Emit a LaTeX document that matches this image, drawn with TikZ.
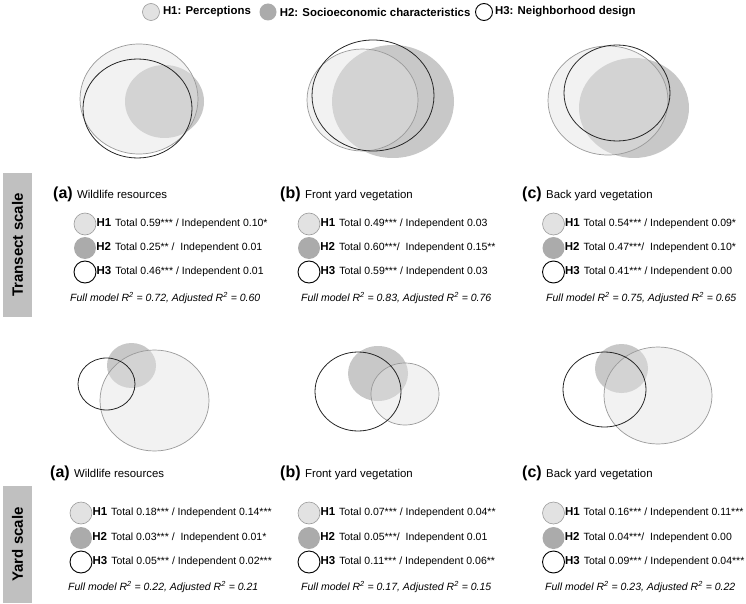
\documentclass[tikz,border=0pt]{standalone}
\usepackage{fontspec}
\setmainfont{Liberation Sans}
\usepackage{xcolor}
\usepackage{tikz}
\usetikzlibrary{positioning}

\definecolor{hOneFill}{HTML}{EFEFEF}
\definecolor{hOneLine}{HTML}{9A9A9A}
\definecolor{hTwoFill}{HTML}{C8C8C8}
\definecolor{iconOne}{HTML}{E2E2E2}
\definecolor{iconTwo}{HTML}{ABABAB}
\definecolor{sideGray}{HTML}{C0C0C0}
\newcommand{\hyp}[1]{{\fontsize{11.5}{13}\selectfont\bfseries #1}\hspace{4pt}}

\begin{document}
\begin{tikzpicture}[
                x=1pt, y=-1pt,
                icon/.style={circle, minimum size=22pt, inner sep=0pt},
                pcpt/.style={icon, fill=iconOne, draw=hOneLine, line width=0.6pt},
                soc/.style={icon, fill=iconTwo},
                nbhd/.style={icon, fill=white, draw=black, line width=0.9pt},
                legtxt/.style={inner sep=0pt, font=\fontsize{11.4}{13}\selectfont\bfseries},
                stat/.style={inner sep=0pt, font=\fontsize{10.5}{12}\selectfont},
                panel/.style={inner sep=0pt, anchor=base west, font=\fontsize{16}{18}\selectfont\bfseries},
                title/.style={inner sep=0pt, anchor=base west, font=\fontsize{11.4}{13}\selectfont},
                fullm/.style={inner sep=0pt, anchor=west, font=\fontsize{10.5}{12}\selectfont\itshape},
                scalebox/.style={fill=sideGray, minimum height=29pt, inner sep=0pt, rotate=90, font=\fontsize{15}{17}\selectfont\bfseries},
                oneline/.style={draw=hOneLine, line width=0.7pt},
                threeline/.style={draw=black!85, line width=0.8pt}
            ]
                \useasboundingbox (0,0) rectangle (746,604);

                % Legend
                \node[pcpt, minimum size=17pt] (lg1) at (151,12) {};
                \node[legtxt, right=3pt of lg1] (lg1t) {H1: Perceptions};
                \node[soc, minimum size=17pt] (lg2) at (268,12) {};
                \node[legtxt, right=3pt of lg2] (lg2t) {H2: Socioeconomic characteristics};
                \node[nbhd, minimum size=17pt] (lg3) at (484,12) {};
                \node[legtxt, right=2pt of lg3] (lg3t) {H3: Neighborhood design};

                % Side labels
                \node[scalebox, minimum width=144pt] (transect) at (17.5,245) {Transect scale};
                \node[scalebox, minimum width=117pt] (yard) at (17.5,544.5) {Yard scale};

                % Venn diagrams, transect scale
                \fill[hOneFill] (139,99) ellipse [x radius=59pt, y radius=55pt];
                \fill[hTwoFill] (164.5,101.5) ellipse [x radius=39.5pt, y radius=36.5pt];
                \fill[white, opacity=0.2] (139,99) ellipse [x radius=59pt, y radius=55pt];
                \draw[oneline] (139,99) ellipse [x radius=59pt, y radius=55pt];
                \draw[threeline] (137.5,108.5) ellipse [x radius=54.5pt, y radius=49.5pt];

                \fill[hOneFill] (362.5,100) ellipse [x radius=55.5pt, y radius=51pt];
                \fill[hTwoFill] (393,101.5) ellipse [x radius=61pt, y radius=56.5pt];
                \fill[white, opacity=0.2] (362.5,100) ellipse [x radius=55.5pt, y radius=51pt];
                \draw[oneline] (362.5,100) ellipse [x radius=55.5pt, y radius=51pt];
                \draw[threeline] (373,95.5) ellipse [x radius=61pt, y radius=55.5pt];

                \fill[hOneFill] (608,100.5) ellipse [x radius=60pt, y radius=54.5pt];
                \fill[hTwoFill] (634,108) ellipse [x radius=55pt, y radius=50pt];
                \fill[white, opacity=0.2] (608,100.5) ellipse [x radius=60pt, y radius=54.5pt];
                \draw[oneline] (608,100.5) ellipse [x radius=60pt, y radius=54.5pt];
                \draw[threeline] (617,93) ellipse [x radius=53pt, y radius=48pt];

                % Venn diagrams, yard scale
                \fill[hOneFill] (154.5,400.5) ellipse [x radius=54.5pt, y radius=50.5pt];
                \fill[hTwoFill] (131.5,365.5) ellipse [x radius=24.5pt, y radius=22.5pt];
                \fill[white, opacity=0.2] (154.5,400.5) ellipse [x radius=54.5pt, y radius=50.5pt];
                \draw[oneline] (154.5,400.5) ellipse [x radius=54.5pt, y radius=50.5pt];
                \draw[threeline] (106.5,384) ellipse [x radius=28.5pt, y radius=26pt];

                \fill[hOneFill] (405,394) ellipse [x radius=34pt, y radius=31pt];
                \fill[hTwoFill] (378,373.5) ellipse [x radius=30pt, y radius=27.5pt];
                \fill[white, opacity=0.2] (405,394) ellipse [x radius=34pt, y radius=31pt];
                \draw[oneline] (405,394) ellipse [x radius=34pt, y radius=31pt];
                \draw[threeline] (358,391.5) ellipse [x radius=43pt, y radius=39.5pt];

                \fill[hOneFill] (658,395.5) ellipse [x radius=54pt, y radius=48.5pt];
                \fill[hTwoFill] (621.5,368.5) ellipse [x radius=26.5pt, y radius=24.5pt];
                \fill[white, opacity=0.2] (658,395.5) ellipse [x radius=54pt, y radius=48.5pt];
                \draw[oneline] (658,395.5) ellipse [x radius=54pt, y radius=48.5pt];
                \draw[threeline] (604.5,389.5) ellipse [x radius=41.5pt, y radius=37.5pt];

                % Transect scale, (a)
                \node[panel] (ta) at (53,198) {(a)};
                \node[title] (tat) at ([xshift=4pt]ta.base east) {Wildlife resources};
                \node[pcpt] (ta1) at (85,224) {};
                \node[stat, right=0pt of ta1] (ta1t) {\hyp{H1}Total 0.59*** / Independent 0.10*};
                \node[soc] (ta2) at (85,248) {};
                \node[stat, right=0pt of ta2] (ta2t) {\hyp{H2}Total 0.25** /~ Independent 0.01};
                \node[nbhd] (ta3) at (85,272) {};
                \node[stat, right=0pt of ta3] (ta3t) {\hyp{H3}Total 0.46*** / Independent 0.01};
                \node[fullm] (taf) at (70,298) {Full model R\textsuperscript{2} = 0.72, Adjusted R\textsuperscript{2} = 0.60};

                % Transect scale, (b)
                \node[panel] (tb) at (280,198) {(b)};
                \node[title] (tbt) at ([xshift=4pt]tb.base east) {Front yard vegetation};
                \node[pcpt] (tb1) at (309,224) {};
                \node[stat, right=0pt of tb1] (tb1t) {\hyp{H1}Total 0.49*** / Independent 0.03};
                \node[soc] (tb2) at (309,248) {};
                \node[stat, right=0pt of tb2] (tb2t) {\hyp{H2}Total 0.60***/~ Independent 0.15**};
                \node[nbhd] (tb3) at (309,272) {};
                \node[stat, right=0pt of tb3] (tb3t) {\hyp{H3}Total 0.59*** / Independent 0.03};
                \node[fullm] (tbf) at (301,298) {Full model R\textsuperscript{2} = 0.83, Adjusted R\textsuperscript{2} = 0.76};

                % Transect scale, (c)
                \node[panel] (tc) at (522,198) {(c)};
                \node[title] (tct) at ([xshift=4pt]tc.base east) {Back yard vegetation};
                \node[pcpt] (tc1) at (553.5,224) {};
                \node[stat, right=0pt of tc1] (tc1t) {\hyp{H1}Total 0.54*** / Independent 0.09*};
                \node[soc] (tc2) at (553.5,248) {};
                \node[stat, right=0pt of tc2] (tc2t) {\hyp{H2}Total 0.47***/~ Independent 0.10*};
                \node[nbhd] (tc3) at (553.5,272) {};
                \node[stat, right=0pt of tc3] (tc3t) {\hyp{H3}Total 0.41*** / Independent 0.00};
                \node[fullm] (tcf) at (546,298) {Full model R\textsuperscript{2} = 0.75, Adjusted R\textsuperscript{2} = 0.65};

                % Yard scale, (a)
                \node[panel] (ya) at (50,477) {(a)};
                \node[title] (yat) at ([xshift=4pt]ya.base east) {Wildlife resources};
                \node[pcpt] (ya1) at (81,513) {};
                \node[stat, right=0pt of ya1] (ya1t) {\hyp{H1}Total 0.18*** / Independent 0.14***};
                \node[soc] (ya2) at (81,538) {};
                \node[stat, right=0pt of ya2] (ya2t) {\hyp{H2}Total 0.03*** /~ Independent 0.01*};
                \node[nbhd] (ya3) at (81,562) {};
                \node[stat, right=0pt of ya3] (ya3t) {\hyp{H3}Total 0.05*** / Independent 0.02***};
                \node[fullm] (yaf) at (68,587) {Full model R\textsuperscript{2} = 0.22, Adjusted R\textsuperscript{2} = 0.21};

                % Yard scale, (b)
                \node[panel] (yb) at (280,477) {(b)};
                \node[title] (ybt) at ([xshift=4pt]yb.base east) {Front yard vegetation};
                \node[pcpt] (yb1) at (309,513) {};
                \node[stat, right=0pt of yb1] (yb1t) {\hyp{H1}Total 0.07*** / Independent 0.04**};
                \node[soc] (yb2) at (309,538) {};
                \node[stat, right=0pt of yb2] (yb2t) {\hyp{H2}Total 0.05***/~ Independent 0.01};
                \node[nbhd] (yb3) at (309,562) {};
                \node[stat, right=0pt of yb3] (yb3t) {\hyp{H3}Total 0.11*** / Independent 0.06**};
                \node[fullm] (ybf) at (301,587) {Full model R\textsuperscript{2} = 0.17, Adjusted R\textsuperscript{2} = 0.15};

                % Yard scale, (c)
                \node[panel] (yc) at (522,477) {(c)};
                \node[title] (yct) at ([xshift=4pt]yc.base east) {Back yard vegetation};
                \node[pcpt] (yc1) at (553.5,513) {};
                \node[stat, right=0pt of yc1] (yc1t) {\hyp{H1}Total 0.16*** / Independent 0.11***};
                \node[soc] (yc2) at (553.5,538) {};
                \node[stat, right=0pt of yc2] (yc2t) {\hyp{H2}Total 0.04***/~ Independent 0.00};
                \node[nbhd] (yc3) at (553.5,562) {};
                \node[stat, right=0pt of yc3] (yc3t) {\hyp{H3}Total 0.09*** / Independent 0.04***};
                \node[fullm] (ycf) at (545,587) {Full model R\textsuperscript{2} = 0.23, Adjusted R\textsuperscript{2} = 0.22};
            \end{tikzpicture}
\end{document}
